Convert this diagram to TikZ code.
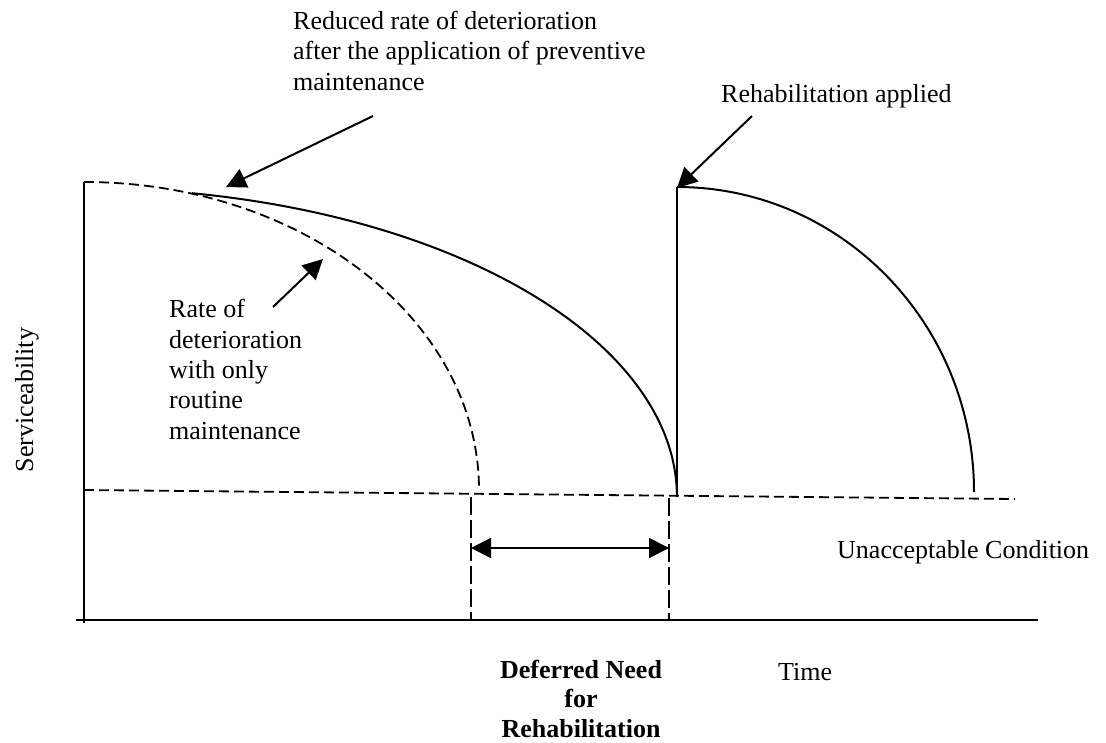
\documentclass[tikz,border=0pt]{standalone}
\usepackage{fontspec}
\setmainfont{Liberation Serif}
\usetikzlibrary{arrows.meta}
\tikzset{
  lbl/.style={inner sep=0pt, font=\fontsize{26pt}{30.3pt}\selectfont, align=left},
  lblc/.style={inner sep=0pt, font=\fontsize{26pt}{29.5pt}\selectfont\bfseries, align=center},
  axisline/.style={line width=2pt},
  curve/.style={line width=2pt},
  dashcurve/.style={line width=1.8pt, dash pattern=on 10pt off 5pt},
  dashvert/.style={line width=1.8pt, dash pattern=on 18pt off 5pt},
  pointer/.style={line width=2pt, -{Triangle[length=20pt,width=20pt]}},
  spanarrow/.style={line width=2pt, {Triangle[length=20pt,width=20pt]}-{Triangle[length=20pt,width=20pt]}},
}
\begin{document}
\begin{tikzpicture}[x=1pt,y=-1pt]
\useasboundingbox (0,0) rectangle (1106,742);
% axes
\coordinate (ytop) at (84,182);
\coordinate (ybot) at (84,623);
\coordinate (xl) at (76,620);
\coordinate (xr) at (1038,620);
\draw[axisline] (ybot) -- (ytop);
\draw[axisline] (xl) -- (xr);
% threshold line
\coordinate (thl) at (84,490);
\coordinate (thr) at (1015,499);
\draw[dashcurve] (thl) -- (thr);
% routine maintenance curve
\draw[dashcurve] (ytop) arc[start angle=-90, end angle=0, x radius=395, y radius=308];
% preventive maintenance curve
\coordinate (branch) at (192,193.2);
\draw[curve] (branch) arc[start angle=-79.5, end angle=0, x radius=593, y radius=309] coordinate (pmend);
% rehabilitation
\coordinate (rbot) at (677,497);
\coordinate (rtop) at (677,187);
\draw[curve] (rbot) -- (rtop);
\draw[curve] (rtop) arc[start angle=-90, end angle=0, x radius=297, y radius=305];
% deferred interval
\coordinate (d1t) at (471,497);
\coordinate (d1b) at (471,620);
\coordinate (d2t) at (669,498);
\coordinate (d2b) at (669,620);
\draw[dashvert] (d1t) -- (d1b);
\draw[dashvert] (d2t) -- (d2b);
\coordinate (s1) at (471,548);
\coordinate (s2) at (669,548);
\draw[spanarrow] (s1) -- (s2);
% labels (base anchor = baseline of last line)
\node[lbl, anchor=base west] (reduced) at (293,90) {Reduced rate of deterioration\\after the application of preventive\\maintenance};
\node[lbl, anchor=base west] (rehab) at (721,102) {Rehabilitation applied};
\node[lbl, anchor=base west] (rate) at (169,439) {Rate of\\deterioration\\with only\\routine\\maintenance};
\node[lbl, anchor=base, rotate=90] (serv) at (33,400) {Serviceability};
\node[lbl, anchor=base west] (unacc) at (837,558) {Unacceptable Condition};
\node[lblc, anchor=base] (deferred) at (581,737) {Deferred Need\\for\\Rehabilitation};
\node[lbl, anchor=base west] (time) at (778,680) {Time};
% pointers
\coordinate (a1t) at (373,116);
\coordinate (a1h) at (226,187);
\coordinate (a2t) at (273,307);
\coordinate (a2h) at (323,259);
\coordinate (a3t) at (752,116);
\coordinate (a3h) at (677,188);
\draw[pointer] (a1t) -- (a1h);
\draw[pointer] (a2t) -- (a2h);
\draw[pointer] (a3t) -- (a3h);
\end{tikzpicture}
\end{document}
